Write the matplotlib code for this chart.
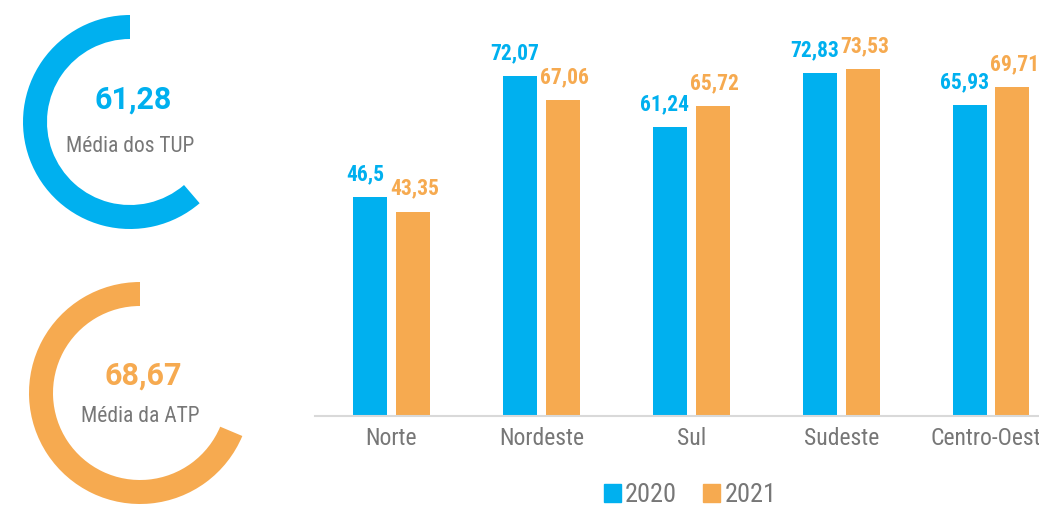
import matplotlib
matplotlib.use("Agg")
import matplotlib.pyplot as plt
from matplotlib.patches import Patch

# ------------------------------
# Data
# ------------------------------
regioes = ["Norte", "Nordeste", "Sul", "Sudeste", "Centro-Oeste"]
vals_2020 = [46.5, 72.07, 61.24, 72.83, 65.93]
vals_2021 = [43.35, 67.06, 65.72, 73.53, 69.71]
labels_2020 = ["46,5", "72,07", "61,24", "72,83", "65,93"]
labels_2021 = ["43,35", "67,06", "65,72", "73,53", "69,71"]

media_tup = 61.28
media_atp = 68.67

# ------------------------------
# Style
# ------------------------------
BLUE = "#00B0EF"
ORANGE = "#F6AA50"
GRAY = "#777777"
NARROW = ["Roboto Condensed", "DejaVu Sans"]

W, H = 1039, 505
fig = plt.figure(figsize=(W / 100, H / 100), dpi=100)


def ring(cx, cy, r, thick, value, color, num_txt, caption, num_dy, cap_dy):
    # pixel centre / radius -> figure fraction axes
    ax = fig.add_axes([(cx - r) / W, (H - cy - r) / H, 2 * r / W, 2 * r / H])
    ax.pie([value, 100 - value], startangle=90, counterclock=True,
           colors=[color, "none"], radius=1,
           wedgeprops=dict(width=thick / r, linewidth=0))
    ax.set_xlim(-1, 1)
    ax.set_ylim(-1, 1)
    ax.axis("off")
    ax.text(0.03, num_dy / r, num_txt, ha="center", va="center",
            fontsize=22, fontweight="bold", color=color, family=["Roboto", "DejaVu Sans"])
    ax.text(0.0, cap_dy / r, caption, ha="center", va="center",
            fontsize=15.5, color=GRAY, family=NARROW)


ring(130, 122, 107, 24, media_tup, BLUE, "61,28", "Média dos TUP", 22, -25)
ring(140, 393, 111, 24, media_atp, ORANGE, "68,67", "Média da ATP", 17, -24)

# ------------------------------
# Bar chart
# ------------------------------
ax = fig.add_axes([315 / W, 89 / H, 751 / W, 377 / H])
x = list(range(len(regioes)))
bw = 0.227
off = 0.143
ax.bar([i - off for i in x], vals_2020, bw, color=BLUE)
ax.bar([i + off for i in x], vals_2021, bw, color=ORANGE)

for i in x:
    ax.annotate(labels_2020[i], (i - off, vals_2020[i]), xytext=(-3.5, 12.2),
                textcoords="offset points", ha="center", va="baseline",
                fontsize=15.5, fontweight="bold", color=BLUE, family=NARROW)
    ax.annotate(labels_2021[i], (i + off, vals_2021[i]), xytext=(1.5, 12.2),
                textcoords="offset points", ha="center", va="baseline",
                fontsize=15.5, fontweight="bold", color=ORANGE, family=NARROW)

ax.set_xlim(-0.51, 4.5)
ax.set_ylim(0, 80)
ax.set_yticks([])
ax.set_xticks(x)
ax.set_xticklabels(regioes, fontsize=17, color=GRAY, family=NARROW)
ax.tick_params(axis="x", length=0, pad=8)
for s in ["top", "left", "right"]:
    ax.spines[s].set_visible(False)
ax.spines["bottom"].set_color("#D9D9D9")
ax.spines["bottom"].set_linewidth(1.5)

leg = fig.legend([Patch(color=BLUE), Patch(color=ORANGE)], ["2020", "2021"],
                 loc="center", bbox_to_anchor=(690 / W, 10 / H), ncol=2,
                 frameon=False, handlelength=0.65, handleheight=0.65,
                 handletextpad=0.15, columnspacing=1.0,
                 prop={"family": NARROW, "size": 19})
for t in leg.get_texts():
    t.set_color(GRAY)

fig.savefig("out.png", dpi=100)
